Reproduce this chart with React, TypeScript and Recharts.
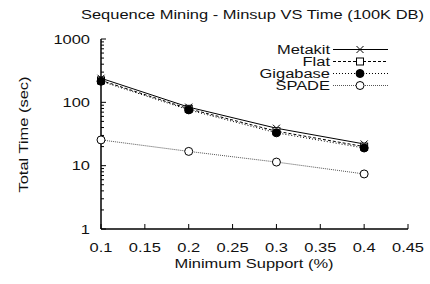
import React from 'react';
import { LineChart, Line, XAxis, YAxis } from 'recharts';

const minsup = [0.1, 0.2, 0.3, 0.4];
const metakit = [240, 84, 39, 22];
const flat = [222, 79, 35, 20];
const gigabase = [215, 76, 33, 19];
const spade = [25.5, 16.8, 11.4, 7.4];
const xTicks = [0.1, 0.15, 0.2, 0.25, 0.3, 0.35, 0.4, 0.45];
const yTicks = [1, 2, 3, 4, 5, 6, 7, 8, 9, 10, 20, 30, 40, 50, 60, 70, 80, 90, 100, 200, 300, 400, 500, 600, 700, 800, 900, 1000];
const majorY = [1, 10, 100, 1000];

const data = minsup.map((m, i) => ({ m, metakit: metakit[i], flat: flat[i], gigabase: gigabase[i], spade: spade[i] }));

const W = 430;
const H = 284;
const LEFT = 101;
const RIGHT = 408;
const TOP = 39;
const BOTTOM = 229;
const FONT = '"Liberation Sans", Arial, Helvetica, sans-serif';
const FS = 13.5;
const SX = 1.22;

const ST = (p: any) => (
  <g transform={`translate(${p.x},${p.y}) rotate(${p.rotate || 0}) scale(${SX},1)`}>
    <text x={0} y={0} dy={p.dy} textAnchor={p.anchor || 'middle'} fontSize={FS} fontFamily={FONT} fill="#111">
      {p.children}
    </text>
  </g>
);

const Cross = (p: any) => (
  <g key={p.key}>
    <line x1={p.cx - 3.5} y1={p.cy - 3.5} x2={p.cx + 3.5} y2={p.cy + 3.5} stroke="#000" strokeWidth={1} />
    <line x1={p.cx - 3.5} y1={p.cy + 3.5} x2={p.cx + 3.5} y2={p.cy - 3.5} stroke="#000" strokeWidth={1} />
  </g>
);
const Square = (p: any) => (
  <rect key={p.key} x={p.cx - 3.5} y={p.cy - 3.5} width={7} height={7} fill="#fff" stroke="#000" strokeWidth={1} />
);
const Filled = (p: any) => <circle key={p.key} cx={p.cx} cy={p.cy} r={4} fill="#000" stroke="#000" />;
const Open = (p: any) => <circle key={p.key} cx={p.cx} cy={p.cy} r={4} fill="#fff" stroke="#000" strokeWidth={1} />;

const YTickLeft = (p: any) => {
  const v = p.payload.value;
  const major = majorY.includes(v);
  const y = p.y;
  return (
    <g>
      <line x1={LEFT} y1={y} x2={LEFT + (major ? 5 : 3)} y2={y} stroke="#000" strokeWidth={1} />
      {major && (
        <ST x={90} y={y} dy="0.35em" anchor="end">
          {v}
        </ST>
      )}
    </g>
  );
};
const YTickRight = (p: any) => {
  const v = p.payload.value;
  const major = majorY.includes(v);
  return <line x1={RIGHT} y1={p.y} x2={RIGHT - (major ? 5 : 3)} y2={p.y} stroke="#000" strokeWidth={1} />;
};
const XTickBottom = (p: any) => (
  <g>
    <line x1={p.x} y1={BOTTOM} x2={p.x} y2={BOTTOM - 5} stroke="#000" strokeWidth={1} />
    <ST x={p.x} y={252}>{p.payload.value}</ST>
  </g>
);
const XTickTop = (p: any) => (
  <line x1={p.x} y1={TOP} x2={p.x} y2={TOP + 5} stroke="#000" strokeWidth={1} />
);

const legendItems = [
  { name: 'Metakit', dash: undefined, color: '#000', marker: 'x' },
  { name: 'Flat', dash: '3 2', color: '#000', marker: 's' },
  { name: 'Gigabase', dash: '1 2', color: '#000', marker: 'f' },
  { name: 'SPADE', dash: '1 1', color: '#555', marker: 'o' },
];

export default function App() {
  return (
    <div style={{ position: 'absolute', left: 0, top: 0, width: W, height: H, background: '#fff' }}>
      <LineChart width={W} height={H} data={data} margin={{ top: TOP, right: W - RIGHT, bottom: 0, left: 0 }}>
        <XAxis xAxisId="b" dataKey="m" type="number" domain={[0.1, 0.45]} ticks={xTicks} height={H - BOTTOM}
          tickLine={false} axisLine={{ stroke: '#000', strokeWidth: 1.5 }} tick={<XTickBottom />} interval={0} />
        <XAxis xAxisId="t" dataKey="m" type="number" orientation="top" domain={[0.1, 0.45]} ticks={xTicks} height={0}
          tickLine={false} axisLine={{ stroke: '#000', strokeWidth: 1.5 }} tick={<XTickTop />} interval={0} />
        <YAxis yAxisId="l" scale="log" type="number" domain={[1, 1000]} ticks={yTicks} width={LEFT} allowDataOverflow
          tickLine={false} axisLine={{ stroke: '#000', strokeWidth: 1.5 }} tick={<YTickLeft />} interval={0} />
        <YAxis yAxisId="r" orientation="right" scale="log" type="number" domain={[1, 1000]} ticks={yTicks} width={0} allowDataOverflow
          tickLine={false} axisLine={{ stroke: '#000', strokeWidth: 1.5 }} tick={<YTickRight />} interval={0} />
        <Line xAxisId="b" yAxisId="l" dataKey="metakit" stroke="#000" strokeWidth={1} dot={Cross} isAnimationActive={false} />
        <Line xAxisId="b" yAxisId="l" dataKey="flat" stroke="#000" strokeWidth={1} strokeDasharray="3 2" dot={Square} isAnimationActive={false} />
        <Line xAxisId="b" yAxisId="l" dataKey="gigabase" stroke="#000" strokeWidth={1} strokeDasharray="1 2" dot={Filled} isAnimationActive={false} />
        <Line xAxisId="b" yAxisId="l" dataKey="spade" stroke="#555" strokeWidth={1} strokeDasharray="1 1" dot={Open} isAnimationActive={false} />
      </LineChart>
      <svg width={W} height={H} style={{ position: 'absolute', left: 0, top: 0, pointerEvents: 'none' }}>
        <ST x={252.5} y={19}>Sequence Mining - Minsup VS Time (100K DB)</ST>
        <ST x={254} y={268}>Minimum Support (%)</ST>
        <ST x={28} y={134.5} rotate={-90}>Total Time (sec)</ST>
        {legendItems.map((it, i) => {
          const y = 49.5 + i * 12;
          const mx = 360;
          return (
            <g key={it.name}>
              <ST x={330} y={y} dy="0.35em" anchor="end">{it.name}</ST>
              <line x1={333} y1={y} x2={388} y2={y} stroke={it.color} strokeWidth={1} strokeDasharray={it.dash} />
              {it.marker === 'x' && <Cross cx={mx} cy={y} />}
              {it.marker === 's' && <Square cx={mx} cy={y} />}
              {it.marker === 'f' && <Filled cx={mx} cy={y} />}
              {it.marker === 'o' && <Open cx={mx} cy={y} />}
            </g>
          );
        })}
      </svg>
    </div>
  );
}
